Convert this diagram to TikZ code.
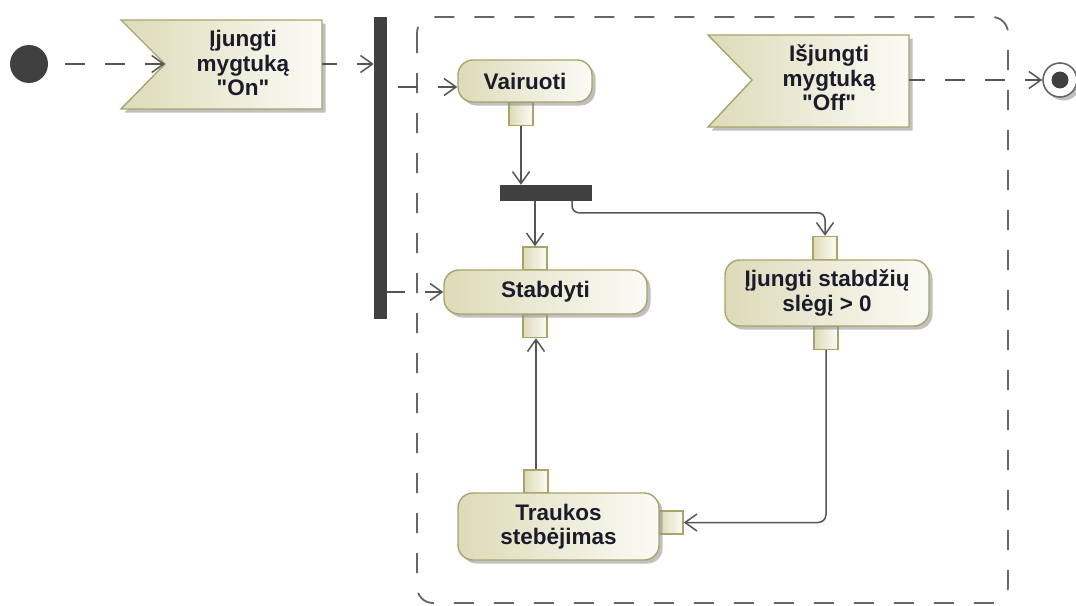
\documentclass[tikz,border=0pt]{standalone}
\usepackage{fontspec}
% label font without TeX ligature mapping, so " stays a straight quote
\newfontfamily\lblfont{Liberation Sans}
\usetikzlibrary{arrows.meta,shadows}

\definecolor{actdark}{HTML}{DDDBB8}
\definecolor{actlight}{HTML}{FBFBF6}
\definecolor{actline}{HTML}{A8A46B}
\definecolor{flowline}{HTML}{555555}
\definecolor{regionline}{HTML}{666666}
\definecolor{barfill}{HTML}{404040}
\definecolor{txt}{HTML}{1B1B2A}

\begin{document}
\begin{tikzpicture}[x=1pt,y=-1pt,
  lbl/.style={font=\lblfont\fontsize{22.5}{24.5}\selectfont\bfseries, text=txt, align=center, inner sep=0pt},
  softshadow/.style={drop shadow={shadow xshift=3.5pt, shadow yshift=-3.5pt, fill=black!45, opacity=0.55}},
  actbox/.style={draw=actline, line width=1.4pt, rounded corners=15pt,
    left color=actdark, right color=actlight, softshadow, lbl},
  pinbox/.style={draw=actline, line width=1.4pt, left color=actdark, right color=actlight,
    minimum width=24pt, minimum height=23pt, inner sep=0pt},
  sigshape/.style={draw=actline, line width=1.4pt, left color=actdark, right color=actlight, softshadow},
  barnode/.style={fill=barfill, draw=none, inner sep=0pt},
  tip/.style={-{Straight Barb[length=12pt,width=17pt]}},
  flow/.style={draw=flowline, line width=1.5pt, tip},
  dflow/.style={flow, dash pattern=on 20pt off 20pt},
  region/.style={draw=regionline, line width=1.8pt, dash pattern=on 20pt off 20pt, rounded corners=16pt}
]
\useasboundingbox (0,0) rectangle (1076,605);

% interruptible region
\path[region] (417,17) rectangle (1008,603);

% initial and final nodes
\node[circle, fill=barfill, minimum size=38pt, inner sep=0pt] (init) at (29,64) {};
\node[circle, draw=regionline, line width=1.6pt, fill=white, minimum size=34pt, inner sep=0pt, softshadow] (final) at (1060,80) {};
\fill[barfill] (final.center) circle (8.5pt);

% accept event actions
\path[sigshape] (121,20) -- (322,20) -- (322,109) -- (121,109) -- (165,64) -- cycle;
\node[lbl] (on) at (243,63) {Įjungti\\mygtuką\\"On"};
\coordinate (onin) at (165,64);
\coordinate (onout) at (322,64);

\path[sigshape] (708,35) -- (909,35) -- (909,127) -- (708,127) -- (752,80) -- cycle;
\node[lbl] (off) at (829,78) {Išjungti\\mygtuką\\"Off"};
\coordinate (offout) at (909,80);

% fork and join bars
\node[barnode, minimum width=13pt, minimum height=302pt] (fork) at (380.5,168) {};
\node[barnode, minimum width=92pt, minimum height=16pt] (join) at (546,193) {};

% actions with their pins
\node[pinbox] (vpin) at (521,114) {};
\node[actbox, minimum width=134pt, minimum height=42pt] (vair) at (525,81) {Vairuoti};

\node[pinbox] (stabtop) at (535,258.5) {};
\node[pinbox] (stabbot) at (535,326) {};
\node[actbox, minimum width=203pt, minimum height=44pt] (stab) at (545.5,292) {Stabdyti};

\node[pinbox] (ijtop) at (825,248) {};
\node[pinbox] (ijbot) at (826,338) {};
\node[actbox, minimum width=204pt, minimum height=66pt] (ij) at (827,293) {Įjungti stabdžių\\slėgį > 0};

\node[pinbox] (trtop) at (536,481.5) {};
\node[pinbox] (trright) at (671,522.5) {};
\node[actbox, minimum width=201pt, minimum height=67pt] (tr) at (558.5,526.5) {Traukos\\stebėjimas};

% dashed flows
\draw[dflow, dash phase=23pt] (init.east) -- (onin);
\draw[dflow, dash phase=5pt] (onout) -- (onout -| fork.west);
\coordinate (vin) at ([yshift=-6pt]vair.west);
\draw[dflow, dash phase=29pt] (vin -| fork.east) -- (vin);
\draw[dflow, dash phase=2pt] (stab.west -| fork.east) -- (stab.west);
\draw[dflow, dash phase=4pt] (offout) -- (final.west);

% solid flows
\draw[flow] (vpin.south) -- (vpin.south |- join.north);
\draw[flow] (join.south -| stabtop.north) -- (stabtop.north);
\draw[flow, rounded corners=7pt] ([xshift=26pt]join.south) |- ([yshift=23pt]ijtop.north) -- (ijtop.north);
\draw[flow, rounded corners=8pt] (ijbot.south) |- (trright.east);
\draw[flow] (trtop.north) -- (trtop.north |- stabbot.south);
\end{tikzpicture}
\end{document}
